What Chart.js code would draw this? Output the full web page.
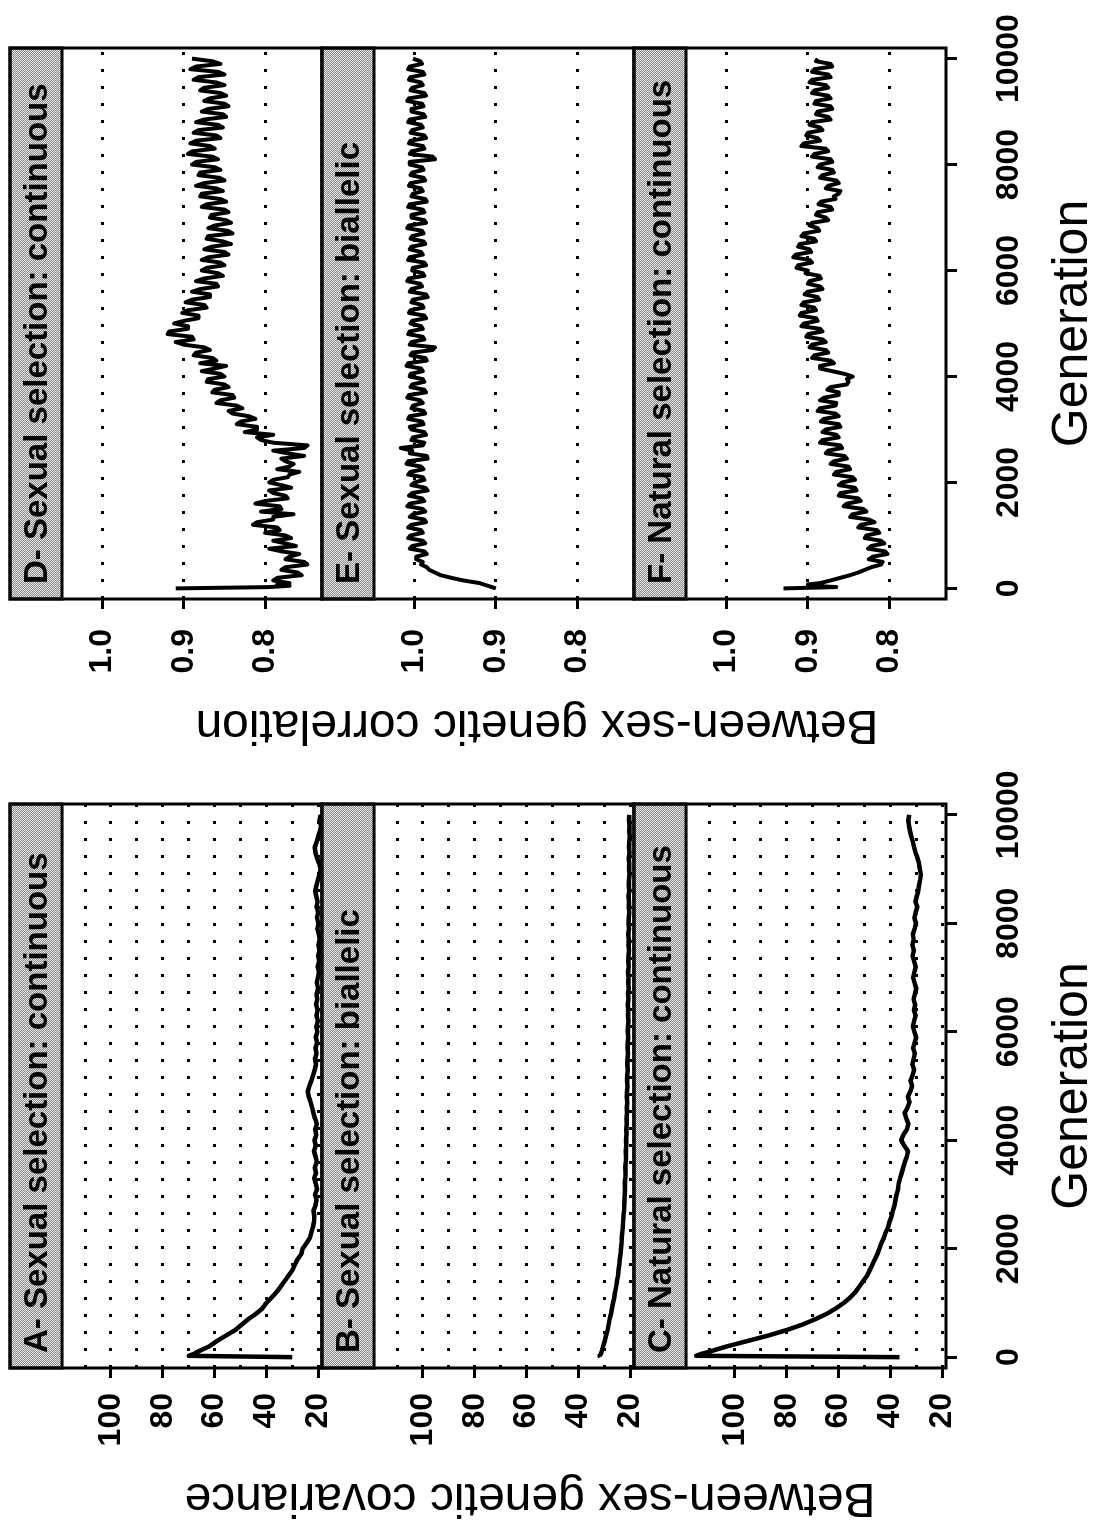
<!DOCTYPE html>
<html>
<head>
<meta charset="utf-8">
<script src="https://cdn.jsdelivr.net/npm/chart.js@4.4.1/dist/chart.umd.min.js"></script>
<style>
  html, body { margin: 0; padding: 0; background: #fff; overflow: hidden; }
  #page {
    position: absolute; left: 0; top: 0; width: 1526px; height: 1103px;
    transform-origin: 0 0; transform: translate(0, 1526px) rotate(-90deg);
    background: #fff;
  }
  #page canvas { position: absolute; top: 0; }
  #covCanvas { left: 0; }
  #corCanvas { left: 760px; }
</style>
</head>
<body>
<div id="page">
  <canvas id="covCanvas" width="760" height="1103"></canvas>
  <canvas id="corCanvas" width="766" height="1103"></canvas>
</div>
<script>
// Generations sampled for the covariance panels
const covGenerations = [
  0, 25, 60,
  100, 200, 300, 400, 500, 600, 700, 800, 900, 1000,
  1100, 1200, 1300, 1400, 1500, 1600, 1700, 1800, 1900, 2000,
  2100, 2200, 2300, 2400, 2500, 2600, 2700, 2800, 2900, 3000,
  3100, 3200, 3300, 3400, 3500, 3600, 3700, 3800, 3900, 4000,
  4100, 4200, 4300, 4400, 4500, 4600, 4700, 4800, 4900, 5000,
  5100, 5200, 5300, 5400, 5500, 5600, 5700, 5800, 5900, 6000,
  6100, 6200, 6300, 6400, 6500, 6600, 6700, 6800, 6900, 7000,
  7100, 7200, 7300, 7400, 7500, 7600, 7700, 7800, 7900, 8000,
  8100, 8200, 8300, 8400, 8500, 8600, 8700, 8800, 8900, 9000,
  9100, 9200, 9300, 9400, 9500, 9600, 9700, 9800, 9900, 10000
];

// Between-sex genetic covariance
const covA = [
  30, 70, 68,
  66.5, 62, 59, 55.5, 52, 49.5, 47, 44, 41.5, 40,
  38, 36, 34.5, 33, 31.5, 30, 29, 28, 26.5, 26,
  24.5, 23.2, 22.6, 22.0, 21.6, 21.5, 21.8, 21.0, 20.6, 21.2,
  20.4, 20.9, 21.5, 20.8, 21.3, 20.5, 21.0, 21.6, 20.9, 21.4,
  20.7, 21.1, 20.5, 21.2, 21.8, 22.3, 22.9, 23.6, 24.0, 23.4,
  22.6, 21.9, 21.3, 20.8, 21.2, 20.6, 21.0, 20.4, 20.9, 20.3,
  20.7, 20.1, 20.6, 20.2, 20.8, 20.3, 20.6, 20.0, 20.5, 20.1,
  19.7, 20.2, 19.6, 20.0, 19.5, 19.9, 19.4, 19.8, 20.3, 19.9,
  20.4, 20.0, 20.6, 20.2, 20.7, 21.1, 20.6, 20.1, 19.5, 19.0,
  19.6, 20.4, 21.0, 21.3, 20.6, 20.0, 19.3, 18.8, 19.5, 19.0
];
const covB = [
  31.5, 31.8, 31.3,
  31.0, 30.4, 29.8, 29.3, 28.7, 28.3, 27.9, 27.4, 27.0, 26.6,
  26.1, 25.8, 25.4, 25.1, 24.7, 24.5, 24.2, 24.0, 23.7, 23.5,
  23.3, 23.2, 23.0, 22.8, 22.7, 22.6, 22.4, 22.3, 22.2, 22.1,
  22.0, 22.1, 21.9, 21.8, 21.9, 21.7, 21.6, 21.7, 21.5, 21.6,
  21.4, 21.5, 21.3, 21.4, 21.2, 21.3, 21.1, 21.3, 21.2, 21.0,
  21.2, 21.1, 20.9, 21.1, 21.0, 20.8, 21.0, 20.9, 20.7, 20.9,
  20.8, 20.6, 20.8, 20.7, 20.9, 20.6, 20.8, 20.5, 20.7, 20.6,
  20.8, 20.5, 20.7, 20.6, 20.4, 20.6, 20.5, 20.7, 20.4, 20.6,
  20.5, 20.3, 20.5, 20.4, 20.6, 20.3, 20.5, 20.4, 20.2, 20.4,
  20.3, 20.5, 20.2, 20.4, 20.3, 20.1, 20.3, 20.2, 20.4, 20.3
];
const covC = [
  36.5, 115, 113,
  110, 103, 95, 87, 80, 74, 69, 64.5, 61, 58,
  55.5, 53.5, 52, 50.5, 49, 48, 47, 46, 45, 44.2,
  43.5, 42.5, 41.8, 40.8, 40.3, 39.5, 39.0, 38.4, 38.0, 37.6,
  37.0, 36.8, 36.2, 35.6, 35.0, 34.4, 33.6, 33.2, 34.6, 35.8,
  35.0, 33.6, 33.0, 33.8, 34.5, 33.4, 32.6, 33.2, 32.3, 31.6,
  32.2, 31.4, 30.8, 31.5, 31.0, 30.5, 31.2, 30.6, 30.0, 30.7,
  31.3, 30.8, 30.2, 30.9, 30.4, 31.0, 30.5, 30.0, 30.6, 31.2,
  30.7, 30.2, 30.8, 31.4, 30.9, 31.5, 31.0, 31.3, 30.6, 30.1,
  30.7, 30.2, 29.6, 30.3, 29.8, 29.2, 28.9, 28.5, 28.2, 28.6,
  28.9, 29.5, 30.2, 30.8, 31.3, 31.9, 32.4, 32.8, 33.1, 32.7
];

// Generations sampled for the correlation panels
const corGenerations = [
  0, 25, 50, 75,
  100, 150, 200, 250, 300, 350, 400, 450, 500, 550, 600, 650, 700, 750, 800, 850, 900, 950, 1000,
  1050, 1100, 1150, 1200, 1250, 1300, 1350, 1400, 1450, 1500, 1550, 1600, 1650, 1700, 1750, 1800, 1850, 1900, 1950, 2000,
  2050, 2100, 2150, 2200, 2250, 2300, 2350, 2400, 2450, 2500, 2550, 2600, 2650, 2700, 2750, 2800, 2850, 2900, 2950, 3000,
  3050, 3100, 3150, 3200, 3250, 3300, 3350, 3400, 3450, 3500, 3550, 3600, 3650, 3700, 3750, 3800, 3850, 3900, 3950, 4000,
  4050, 4100, 4150, 4200, 4250, 4300, 4350, 4400, 4450, 4500, 4550, 4600, 4650, 4700, 4750, 4800, 4850, 4900, 4950, 5000,
  5050, 5100, 5150, 5200, 5250, 5300, 5350, 5400, 5450, 5500, 5550, 5600, 5650, 5700, 5750, 5800, 5850, 5900, 5950, 6000,
  6050, 6100, 6150, 6200, 6250, 6300, 6350, 6400, 6450, 6500, 6550, 6600, 6650, 6700, 6750, 6800, 6850, 6900, 6950, 7000,
  7050, 7100, 7150, 7200, 7250, 7300, 7350, 7400, 7450, 7500, 7550, 7600, 7650, 7700, 7750, 7800, 7850, 7900, 7950, 8000,
  8050, 8100, 8150, 8200, 8250, 8300, 8350, 8400, 8450, 8500, 8550, 8600, 8650, 8700, 8750, 8800, 8850, 8900, 8950, 9000,
  9050, 9100, 9150, 9200, 9250, 9300, 9350, 9400, 9450, 9500, 9550, 9600, 9650, 9700, 9750, 9800, 9850, 9900, 9950, 10000
];

// Between-sex genetic correlation
const corD = [
  0.91, 0.795, 0.77, 0.785,
  0.77, 0.79, 0.785, 0.755, 0.76, 0.78, 0.775, 0.748, 0.752, 0.775, 0.77, 0.758, 0.78, 0.795, 0.762, 0.775, 0.79, 0.768, 0.775,
  0.80, 0.782, 0.785, 0.815, 0.81, 0.79, 0.79, 0.765, 0.805, 0.78, 0.782, 0.812, 0.80, 0.772, 0.775, 0.79, 0.795, 0.768, 0.78, 0.795,
  0.79, 0.772, 0.77, 0.758, 0.785, 0.77, 0.765, 0.775, 0.78, 0.752, 0.772, 0.79, 0.752, 0.748, 0.79, 0.805, 0.81, 0.79, 0.825, 0.81,
  0.81, 0.835, 0.83, 0.812, 0.82, 0.84, 0.845, 0.828, 0.835, 0.86, 0.855, 0.838, 0.84, 0.865, 0.862, 0.845, 0.85, 0.872, 0.87, 0.85,
  0.855, 0.878, 0.862, 0.848, 0.88, 0.86, 0.865, 0.888, 0.885, 0.868, 0.875, 0.90, 0.91, 0.888, 0.89, 0.92, 0.918, 0.895, 0.895, 0.912,
  0.90, 0.882, 0.882, 0.902, 0.895, 0.872, 0.875, 0.898, 0.89, 0.868, 0.868, 0.89, 0.88, 0.858, 0.86, 0.885, 0.875, 0.852, 0.858, 0.878,
  0.872, 0.85, 0.855, 0.878, 0.87, 0.845, 0.85, 0.875, 0.866, 0.842, 0.852, 0.872, 0.87, 0.84, 0.846, 0.87, 0.862, 0.842, 0.848, 0.868,
  0.866, 0.845, 0.85, 0.878, 0.872, 0.848, 0.855, 0.88, 0.878, 0.852, 0.86, 0.885, 0.875, 0.85, 0.856, 0.882, 0.88, 0.855, 0.862, 0.89,
  0.885, 0.858, 0.865, 0.895, 0.89, 0.862, 0.868, 0.892, 0.885, 0.855, 0.86, 0.888, 0.882, 0.852, 0.858, 0.885, 0.875, 0.848, 0.852, 0.878,
  0.87, 0.845, 0.85, 0.875, 0.868, 0.848, 0.855, 0.88, 0.875, 0.85, 0.86, 0.888, 0.882, 0.85, 0.858, 0.892, 0.885, 0.855, 0.865, 0.89
];
const corE = [
  0.90, 0.905, 0.91, 0.915,
  0.92, 0.94, 0.955, 0.968, 0.975, 0.982, 0.985, 0.992, 0.99, 0.998, 0.998, 0.985, 0.988, 1.006, 1.003, 0.987, 0.99, 1.008, 1.005,
  0.99, 0.992, 1.008, 1.004, 0.986, 0.988, 1.006, 1.002, 0.987, 0.99, 1.009, 1.006, 0.988, 0.991, 1.007, 1.003, 0.984, 0.987, 1.004, 1.0,
  0.988, 0.99, 1.008, 1.005, 0.989, 0.992, 1.01, 1.008, 0.984, 0.985, 1.006, 1.003, 1.017, 0.99, 0.988, 1.004, 1.002, 0.986, 0.988, 1.004,
  1.006, 0.989, 0.991, 1.008, 1.006, 0.987, 0.989, 1.004, 1.002, 0.99, 0.993, 1.009, 1.007, 0.986, 0.988, 1.005, 1.003, 0.988, 0.99, 1.006,
  1.005, 0.99, 0.992, 1.01, 1.008, 0.985, 0.987, 1.005, 1.003, 0.978, 0.975, 1.006, 1.004, 0.988, 0.99, 1.008, 1.006, 0.99, 0.992, 1.005,
  1.003, 0.986, 0.988, 1.007, 1.005, 0.989, 0.991, 1.004, 1.002, 0.984, 0.986, 1.006, 1.004, 0.991, 0.993, 1.009, 1.007, 0.988, 0.99, 1.003,
  1.002, 0.986, 0.988, 1.008, 1.006, 0.99, 0.992, 1.006, 1.004, 0.987, 0.989, 1.005, 1.003, 0.989, 0.991, 1.009, 1.007, 0.986, 0.988, 1.004,
  1.004, 0.988, 0.99, 1.008, 1.006, 0.985, 0.987, 1.004, 1.002, 0.99, 0.992, 1.007, 1.005, 0.987, 0.989, 1.005, 1.003, 0.989, 0.991, 1.006,
  1.006, 0.975, 0.978, 1.006, 1.004, 0.988, 0.99, 1.007, 1.005, 0.986, 0.988, 1.005, 1.003, 0.99, 0.992, 1.008, 1.006, 0.987, 0.989, 1.004,
  1.004, 0.989, 0.991, 1.009, 1.007, 0.986, 0.988, 1.005, 1.003, 0.99, 0.992, 1.007, 1.005, 0.988, 0.99, 1.008, 1.006, 0.991, 0.993, 1.002
];
const corF = [
  0.93, 0.865, 0.895, 0.90,
  0.885, 0.872, 0.86, 0.848, 0.838, 0.83, 0.822, 0.81, 0.808, 0.825, 0.82, 0.802, 0.805, 0.826, 0.822, 0.806, 0.81, 0.83, 0.828,
  0.812, 0.815, 0.838, 0.835, 0.818, 0.825, 0.848, 0.845, 0.828, 0.832, 0.856, 0.852, 0.835, 0.838, 0.862, 0.86, 0.84, 0.842, 0.862, 0.858,
  0.842, 0.845, 0.868, 0.865, 0.848, 0.85, 0.872, 0.868, 0.852, 0.855, 0.878, 0.875, 0.858, 0.86, 0.885, 0.882, 0.862, 0.865, 0.882, 0.878,
  0.86, 0.862, 0.884, 0.88, 0.862, 0.866, 0.888, 0.885, 0.866, 0.865, 0.885, 0.88, 0.862, 0.862, 0.876, 0.872, 0.852, 0.85, 0.852, 0.845,
  0.855, 0.87, 0.885, 0.885, 0.868, 0.872, 0.895, 0.892, 0.875, 0.878, 0.898, 0.895, 0.878, 0.882, 0.902, 0.90, 0.882, 0.885, 0.908, 0.905,
  0.888, 0.89, 0.91, 0.908, 0.89, 0.892, 0.908, 0.905, 0.886, 0.888, 0.904, 0.90, 0.882, 0.885, 0.90, 0.898, 0.884, 0.886, 0.903, 0.90,
  0.914, 0.912, 0.895, 0.898, 0.918, 0.915, 0.896, 0.898, 0.912, 0.91, 0.89, 0.892, 0.908, 0.905, 0.886, 0.888, 0.898, 0.895, 0.875, 0.878,
  0.89, 0.888, 0.87, 0.872, 0.887, 0.884, 0.866, 0.868, 0.862, 0.86, 0.878, 0.875, 0.862, 0.865, 0.885, 0.882, 0.868, 0.87, 0.888, 0.885,
  0.87, 0.872, 0.895, 0.892, 0.875, 0.878, 0.908, 0.905, 0.885, 0.888, 0.902, 0.90, 0.882, 0.885, 0.898, 0.895, 0.872, 0.875, 0.89, 0.888,
  0.87, 0.872, 0.892, 0.89, 0.872, 0.875, 0.895, 0.892, 0.875, 0.878, 0.898, 0.895, 0.872, 0.875, 0.895, 0.892, 0.87, 0.872, 0.89, 0.888
];

// Axis ticks and panel titles
const genTicks = [0, 2000, 4000, 6000, 8000, 10000];
const covGrid = [20, 30, 40, 50, 60, 70, 80, 90, 100, 110];
const covLabels = [20, 40, 60, 80, 100];
const corGrid = [0.8, 0.9, 1.0];
const corLabels = [0.8, 0.9, 1.0];
const covTitles = ["A- Sexual selection: continuous", "B- Sexual selection: biallelic", "C- Natural selection: continuous"];
const corTitles = ["D- Sexual selection: continuous", "E- Sexual selection: biallelic", "F- Natural selection: continuous"];

const FONT = '"Liberation Sans", Arial, Helvetica, sans-serif';

function stripPattern(ctx) {
  const c = document.createElement("canvas");
  c.width = 2;
  c.height = 2;
  const p = c.getContext("2d");
  p.fillStyle = "#e4e4e4";
  p.fillRect(0, 0, 2, 2);
  p.fillStyle = "#8c8c8c";
  p.fillRect(0, 0, 1, 1);
  p.fillRect(1, 1, 1, 1);
  return ctx.createPattern(c, "repeat");
}

// draws frames, grey strips with panel titles, and the shared y label
const trellisPlugin = {
  id: "trellis",
  afterDatasetsDraw(chart, args, opts) {
    const { ctx, chartArea } = chart;
    const pattern = stripPattern(ctx);
    ctx.save();
    opts.axes.forEach((id, i) => {
      const s = chart.scales[id];
      const stripBottom = s.getPixelForValue(opts.plotMax);
      ctx.fillStyle = pattern;
      ctx.fillRect(chartArea.left, s.top, chartArea.width, stripBottom - s.top);
      ctx.strokeStyle = "#000";
      ctx.lineWidth = 3;
      ctx.strokeRect(chartArea.left, s.top, chartArea.width, stripBottom - s.top);
      ctx.strokeRect(chartArea.left, s.top, chartArea.width, s.bottom - s.top);
      ctx.fillStyle = "#000";
      ctx.font = "bold 33px " + FONT;
      ctx.textAlign = "left";
      ctx.textBaseline = "middle";
      ctx.fillText(opts.titles[i], chartArea.left + 15, (s.top + stripBottom) / 2 + 2);
    });
    ctx.translate(opts.labelX, opts.labelY);
    ctx.rotate(-Math.PI / 2);
    ctx.font = "48px " + FONT;
    ctx.textAlign = "center";
    ctx.textBaseline = "middle";
    ctx.fillText(opts.label, 0, 0);
    ctx.restore();
  },
};

function isIn(list, v) {
  return list.some((x) => Math.abs(x - v) < 1e-6);
}

function makeColumn(canvasId, cfg) {
  const scales = {
    x: {
      type: "linear",
      position: "bottom",
      min: -200,
      max: 10200,
      afterBuildTicks: (s) => { s.ticks = genTicks.map((v) => ({ value: v })); },
      afterFit: (s) => { s.height = 157; s.paddingLeft = 0; s.paddingRight = 0; },
      grid: { drawOnChartArea: false, drawTicks: true, tickLength: 11, tickWidth: 3, tickColor: "#000" },
      border: { display: false },
      ticks: {
        color: "#000", padding: 33, maxRotation: 0, autoSkip: false,
        font: { family: FONT, size: 32, weight: "bold" },
        callback: (v) => String(v),
      },
      title: { display: true, text: "Generation", color: "#000", padding: 0, font: { family: FONT, size: 50 } },
    },
  };
  // left-side stacked axes are laid out last-defined first, so add them bottom panel first
  cfg.axes.slice().reverse().forEach((id) => {
    scales[id] = {
      type: "linear",
      position: "left",
      stack: "panels",
      stackWeight: 1,
      min: cfg.plotMin,
      max: cfg.axisMax,
      afterBuildTicks: (s) => { s.ticks = cfg.grid.map((v) => ({ value: v })); },
      afterFit: (s) => { s.width = cfg.yWidth; s.paddingTop = 0; s.paddingBottom = 0; },
      grid: {
        color: "#000",
        lineWidth: 3,
        tickLength: 10,
        tickWidth: 3,
        tickBorderDash: [],
        tickColor: (c) => (c.tick && isIn(cfg.labels, c.tick.value) ? "#000" : "rgba(0,0,0,0)"),
      },
      border: { display: false, dash: [3, 14] },
      ticks: {
        color: "#000",
        padding: cfg.tickPad,
        autoSkip: false,
        font: { family: FONT, size: 32, weight: "bold" },
        callback: (v) => (isIn(cfg.labels, v) ? Number(v).toFixed(cfg.decimals) : ""),
      },
    };
  });

  return new Chart(document.getElementById(canvasId), {
    type: "line",
    data: {
      datasets: cfg.series.map((vals, i) => ({
        data: cfg.gens.map((g, k) => ({ x: g, y: vals[k] })),
        yAxisID: cfg.axes[i],
        borderColor: "#000",
        borderWidth: cfg.lineWidth,
        borderJoinStyle: "round",
        pointRadius: 0,
        tension: 0,
        fill: false,
      })),
    },
    options: {
      responsive: false,
      animation: false,
      devicePixelRatio: 1,
      layout: { padding: { top: 10, right: cfg.padRight, left: 0, bottom: 0 } },
      plugins: {
        legend: { display: false },
        tooltip: { enabled: false },
        trellis: {
          axes: cfg.axes,
          titles: cfg.titles,
          plotMax: cfg.plotMax,
          label: cfg.label,
          labelX: cfg.labelX,
          labelY: cfg.labelY,
        },
      },
      scales: scales,
    },
    plugins: [trellisPlugin],
  });
}

makeColumn("covCanvas", {
  gens: covGenerations,
  axes: ["yA", "yB", "yC"],
  series: [covA, covB, covC],
  titles: covTitles,
  grid: covGrid,
  labels: covLabels,
  decimals: 0,
  plotMin: 18.5,
  plotMax: 118.9,
  axisMax: 139.0,
  yWidth: 158,
  tickPad: 15,
  padRight: 38,
  lineWidth: 4.5,
  label: "Between-sex genetic covariance",
  labelX: 29,
  labelY: 530,
});

makeColumn("corCanvas", {
  gens: corGenerations,
  axes: ["yD", "yE", "yF"],
  series: [corD, corE, corF],
  titles: corTitles,
  grid: corGrid,
  labels: corLabels,
  decimals: 1,
  plotMin: 0.73,
  plotMax: 1.05,
  axisMax: 1.114,
  yWidth: 167,
  tickPad: 20,
  padRight: 48,
  lineWidth: 4,
  label: "Between-sex genetic correlation",
  labelX: 42,
  labelY: 537,
});
</script>
</body>
</html>
